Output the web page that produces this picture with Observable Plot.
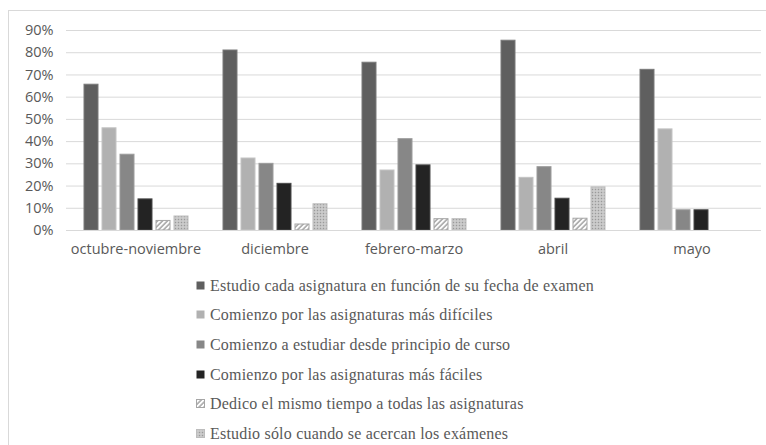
<!DOCTYPE html>
<html>
<head>
<meta charset="utf-8">
<script src="https://cdn.jsdelivr.net/npm/d3@7"></script>
<script src="https://cdn.jsdelivr.net/npm/@observablehq/plot@0.6"></script>
<style>
  html, body { margin: 0; padding: 0; background: #fff; overflow: hidden; width: 766px; height: 445px; }
  #frame { position: absolute; left: 8px; top: 10px; width: 900px; height: 600px; border: 1.5px solid #d9d9d9; box-sizing: border-box; }
  #chart { position: absolute; left: 0; top: 0; }
  #legend { position: absolute; left: 196px; top: 271px; font-family: "Liberation Serif", serif; font-size: 16px; letter-spacing: 0.2px; color: #595959; }
  .item { display: flex; align-items: center; height: 29.6px; white-space: nowrap; }
  .item svg { margin-right: 4px; }
</style>
</head>
<body>
<div id="frame"></div>
<div id="chart"></div>
<div id="legend"></div>
<script>
const categories = ["octubre-noviembre", "diciembre", "febrero-marzo", "abril", "mayo"];
const series = [
  "Estudio cada asignatura en función de su fecha de examen",
  "Comienzo por las asignaturas más difíciles",
  "Comienzo a estudiar desde principio de curso",
  "Comienzo por las asignaturas más fáciles",
  "Dedico el mismo tiempo a todas las asignaturas",
  "Estudio sólo cuando se acercan los exámenes"
];
const estudioFecha = [65.6, 81, 75.5, 85.4, 72.3];
const masDificiles = [46, 32.4, 27, 23.7, 45.5];
const principioCurso = [34.1, 30, 41.1, 28.5, 9.1];
const masFaciles = [14, 21, 29.3, 14.3, 9.1];
const mismoTiempo = [4.3, 2.7, 5.1, 5.3, 0];
const soloExamenes = [6.3, 11.8, 5.1, 19.4, 0];
const yTicks = [0, 10, 20, 30, 40, 50, 60, 70, 80, 90];

const values = [estudioFecha, masDificiles, principioCurso, masFaciles, mismoTiempo, soloExamenes];
const fills = ["#5f5f5f", "#b1b1b1", "#878787", "#232323", "url(#hatch)", "url(#dots)"];
const strokes = ["#7a7a7a", "#c4c4c4", "#9c9c9c", "#4a4a4a", "#a6a6a6", "#bdbdbd"];

const data = [];
categories.forEach((c, i) => series.forEach((s, j) => data.push({category: c, series: s, value: values[j][i]})));

const marks = [
  Plot.gridY(yTicks, {stroke: "#d9d9d9", strokeOpacity: 1, strokeWidth: 1})
];
series.forEach((s, j) => {
  marks.push(Plot.barY(data.filter(d => d.series === s && d.value > 0), {
    fx: "category", x: "series", y: "value",
    fill: fills[j], stroke: strokes[j], strokeWidth: 1
  }));
});
marks.push(Plot.ruleY([0], {stroke: "#d9d9d9", strokeWidth: 1}));
marks.push(Plot.axisY(yTicks, {tickSize: 0, tickPadding: 13, tickFormat: d => d + "%", fontSize: 14.5, fill: "#595959", label: null}));
marks.push(Plot.axisFx({anchor: "bottom", tickSize: 0, tickPadding: 13, fontSize: 14.5, fill: "#595959", label: null}));

const svg = Plot.plot({
  width: 766,
  height: 260,
  marginTop: 30,
  marginBottom: 30,
  marginLeft: 65,
  marginRight: 5,
  style: {fontFamily: "'Open Sans', sans-serif", background: "transparent"},
  fx: {domain: categories, padding: 0, label: null},
  x: {domain: series, paddingInner: 0.23, paddingOuter: 0.88, axis: null},
  y: {domain: [0, 90], axis: null},
  marks
});

const defs = `
<defs>
  <pattern id="hatch" patternUnits="userSpaceOnUse" width="3.5" height="3.5" patternTransform="rotate(45)">
    <rect width="3.5" height="3.5" fill="#ffffff"/>
    <line x1="0.9" y1="0" x2="0.9" y2="3.5" stroke="#8c8c8c" stroke-width="1.2"/>
  </pattern>
  <pattern id="dots" patternUnits="userSpaceOnUse" width="3" height="3">
    <rect width="3" height="3" fill="#c2c2c2"/>
    <rect x="0" y="0" width="1" height="1" fill="#9a9a9a"/>
    <rect x="1.5" y="1.5" width="1" height="1" fill="#e8e8e8"/>
  </pattern>
</defs>`;
svg.insertAdjacentHTML("afterbegin", defs);
document.getElementById("chart").appendChild(svg);

const legend = d3.select("#legend");
series.forEach((s, j) => {
  const item = legend.append("div").attr("class", "item");
  const sw = item.append("svg").attr("width", 10).attr("height", 10);
  sw.append("rect").attr("x", 0.5).attr("y", 0.5).attr("width", 8).attr("height", 8)
    .attr("fill", fills[j]).attr("stroke", j >= 4 ? strokes[j] : "none");
  item.append("span").text(s);
});
</script>
</body>
</html>
